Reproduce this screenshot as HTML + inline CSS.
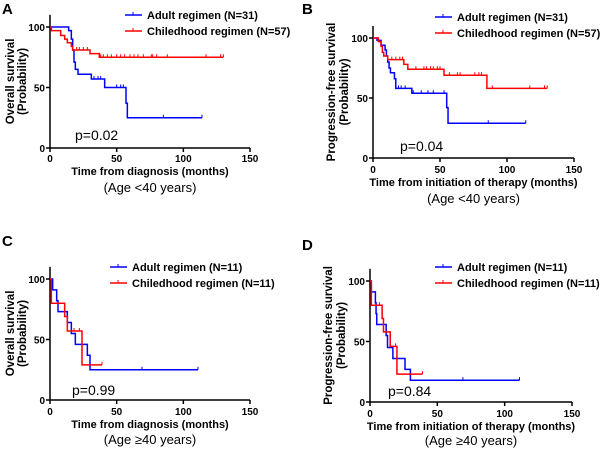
<!DOCTYPE html>
<html><head><meta charset="utf-8"><style>
body{margin:0;background:#fff}
svg{display:block;font-family:"Liberation Sans",Arial,sans-serif}
</style></head><body>
<svg id="c" width="600" height="449" viewBox="0 0 600 449"></svg>
<script>
// Data per panel: step times (months) and survival (%) values
const aBlueT=[0,14,16,17,18,19,21,31,41,57,58], aBlueS=[100,97,90,81,71,65,61,57,50,37,25], aBlueEnd=114, aBlueCens=[33,36,38,50,53,55,85,114];
const aRedT=[0,1,8,11,13,16,17,30,37], aRedS=[100,97,93,90,87,84,81,78,75], aRedEnd=130, aRedCens=[20,22,25,28,38,40,43,46,50,53,56,60,63,66,70,76,77,80,88,117,128,130];
const bBlueT=[0,3,6,9,10,11,12,13,16,17,29,55,56], bBlueS=[100,98,94,90,85,80,75,71,66,58,54,42,29], bBlueEnd=114, bBlueCens=[19,21,24,30,36,41,45,53,86,114];
const bRedT=[0,4,6,7,8,11,23,26,53,85], bRedS=[100,97,93,88,85,82,78,74,69,58], bRedEnd=130, bRedCens=[14,17,20,22,32,38,40,43,45,48,50,57,63,65,76,79,81,89,117,128,130];
const cBlueT=[0,2,5,6,13,16,19,28,30], cBlueS=[100,91,82,73,64,55,46,37,25], cBlueEnd=111, cBlueCens=[69,111];
const cRedT=[0,1,11,13,24], cRedS=[100,80,69,57,29], cRedEnd=39, cRedCens=[18,22,39];
const dBlueT=[0,1,4,4.5,5,12,13,17,26,30], dBlueS=[100,91,82,73,64,55,45,36,27,18], dBlueEnd=111, dBlueCens=[69,111];
const dRedT=[0,1,9,10,15,20], dRedS=[100,80,69,58,46,23], dRedEnd=39, dRedCens=[7,19,39];
const xTicks=[0,50,100,150], yTicks=[0,50,100];

const svg=document.getElementById('c');const NS='http://www.w3.org/2000/svg';
function mk(tag,attrs,parent,txt){const e=document.createElementNS(NS,tag);for(const k in attrs)e.setAttribute(k,attrs[k]);if(txt!=null)e.textContent=txt;(parent||svg).appendChild(e);return e;}
const panels=[
 {id:'a',L:'A',lx:2,ly:14,x0:50,x1:250,y0:148,y1:27,ytitle:['Overall  survival','(Probability)'],yt:[10,22],xt:'Time from diagnosis (months)',age:'(Age <40 years)',xty:158,tty:175,agy:192,p:'p=0.02',px:75,py:140,legx:125,legy:15,n:['31','57'],
  blue:[aBlueT,aBlueS,aBlueEnd,aBlueCens],red:[aRedT,aRedS,aRedEnd,aRedCens]},
 {id:'b',L:'B',lx:302,ly:14,x0:373,x1:574,y0:158,y1:38,ytitle:['Progression-free survival','(Probability)'],yt:[331,344],xt:'Time from initiation of therapy (months)',age:'(Age <40 years)',xty:169,tty:186,agy:203,p:'p=0.04',px:400,py:151,legx:435,legy:17,n:['31','57'],
  blue:[bBlueT,bBlueS,bBlueEnd,bBlueCens],red:[bRedT,bRedS,bRedEnd,bRedCens]},
 {id:'c',L:'C',lx:2,ly:246,x0:50,x1:250,y0:400,y1:279,ytitle:['Overall  survival','(Probability)'],yt:[10,22],xt:'Time from diagnosis (months)',age:'(Age \u226540 years)',xty:411,tty:428,agy:444,p:'p=0.99',px:72,py:395,legx:110,legy:267,n:['11','11'],
  blue:[cBlueT,cBlueS,cBlueEnd,cBlueCens],red:[cRedT,cRedS,cRedEnd,cRedCens]},
 {id:'d',L:'D',lx:302,ly:250,x0:370,x1:572,y0:402,y1:281,ytitle:['Progression-free survival','(Probability)'],yt:[328,341],xt:'Time from initiation of therapy (months)',age:'(Age \u226540 years)',xty:413,tty:430,agy:445,p:'p=0.84',px:388,py:396,legx:435,legy:267,n:['11','11'],
  blue:[dBlueT,dBlueS,dBlueEnd,dBlueCens],red:[dRedT,dRedS,dRedEnd,dRedCens]}
];
panels.forEach(P=>{
 const g=mk('g',{},svg);
 
 
 const X=t=>P.x0+(P.x1-P.x0)*t/150, Y=s=>P.y0+(P.y1-P.y0)*s/100;
 const lab=mk('text',{x:P.lx,y:P.ly,'font-size':15,'font-weight':'bold'},g,P.L);
 
 
 const ya=mk('line',{x1:P.x0,y1:P.y0,x2:P.x0,y2:Y(110),stroke:'#000','stroke-width':1.5},g);
 
 
 const xa=mk('line',{x1:P.x0,y1:P.y0,x2:P.x1,y2:P.y0,stroke:'#000','stroke-width':1.5},g);
 
 
 yTicks.forEach(v=>{
  mk('line',{x1:P.x0-4,x2:P.x0,y1:Y(v),y2:Y(v),stroke:'#000','stroke-width':1.5},g);
  const t=mk('text',{x:P.x0-5,y:Y(v)+4,'font-size':10,'font-weight':'bold','text-anchor':'end'},g,String(v));
  
  
 });
 xTicks.forEach(v=>{
  mk('line',{x1:X(v),x2:X(v),y1:P.y0,y2:P.y0+4,stroke:'#000','stroke-width':1.5},g);
  const t=mk('text',{x:X(v),y:P.xty+4,'font-size':10,'font-weight':'bold','text-anchor':'middle'},g,String(v));
  
  
 });
 const cx=(P.x0+P.x1)/2;
 const xt=mk('text',{x:cx,y:P.tty,'font-size':11,'font-weight':'bold','text-anchor':'middle'},g,P.xt);
 
 
 const ag=mk('text',{x:cx,y:P.agy,'font-size':13,'text-anchor':'middle'},g,P.age);
 
 
 const ym=(P.y0+Y(110))/2;
 P.ytitle.forEach((s,i)=>{
  const t=mk('text',{x:0,y:0,'font-size':11.5,'font-weight':'bold','text-anchor':'middle',transform:`translate(${P.yt[i]+4},${ym}) rotate(-90)`},g,s);
  
  
 });
 const pv=mk('text',{x:P.px,y:P.py,'font-size':14},g,P.p);
 
 
 [['blue','#0000ff','Adult regimen (N='+P.n[0]+')'],['red','#ff0000','Chiledhood regimen (N='+P.n[1]+')']].forEach(([k,col,name],i)=>{
  const [T,S,end,C]=P[k];
  let d=`M${X(T[0])},${Y(S[0])}`;
  for(let j=1;j<T.length;j++){d+=`H${X(T[j])}V${Y(S[j])}`;}
  d+=`H${X(end)}`;
  const path=mk('path',{d:d,fill:'none',stroke:col,'stroke-width':1.5},g);
  
  
  C.forEach(c=>{
   let s=S[0];for(let j=0;j<T.length;j++){if(T[j]<=c)s=S[j];}
   const tk=mk('line',{x1:X(c),x2:X(c),y1:Y(s),y2:Y(s)-3,stroke:col,'stroke-width':1},g);
   
   
  });
  const ly=P.legy+i*16;
  const le=mk('g',{},g);
  
  
  mk('line',{x1:P.legx,x2:P.legx+17,y1:ly,y2:ly,stroke:col,'stroke-width':1.5},le);
  mk('line',{x1:P.legx+8,x2:P.legx+8,y1:ly,y2:ly-3,stroke:col,'stroke-width':1},le);
  mk('text',{x:P.legx+22,y:ly+4,'font-size':11,'font-weight':'bold'},le,name);
 });
});
</script>
</body></html>
